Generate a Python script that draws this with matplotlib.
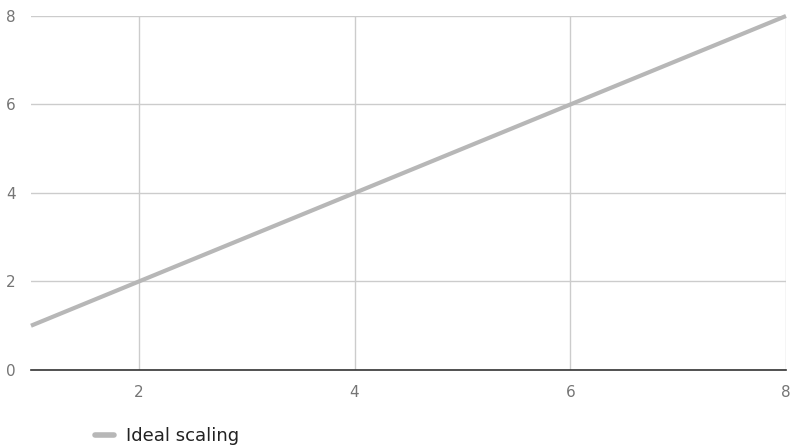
import matplotlib
matplotlib.use("Agg")
import matplotlib.pyplot as plt
from matplotlib.lines import Line2D

# data
workers = [1, 2, 3, 4, 5, 6, 7, 8]
ideal_speedup = [1, 2, 3, 4, 5, 6, 7, 8]
x_ticks = [2, 4, 6, 8]
y_ticks = [0, 2, 4, 6, 8]

LINE_COLOR = "#b7b7b7"
GRID_COLOR = "#cccccc"
TEXT_COLOR = "#757575"

fig = plt.figure(figsize=(7.92, 4.47), dpi=100)
ax = fig.add_axes([0.0391, 0.1723, 0.9533, 0.7919])

ax.plot(workers, ideal_speedup, color=LINE_COLOR, linewidth=3, solid_capstyle="butt",
        clip_on=False, zorder=3)

ax.set_xlim(1, 8)
ax.set_ylim(0, 8)
ax.set_xticks(x_ticks)
ax.set_yticks(y_ticks)

ax.grid(True, color=GRID_COLOR, linewidth=1)
ax.set_axisbelow(True)

for side in ["top", "right", "left"]:
    ax.spines[side].set_visible(False)
ax.spines["bottom"].set_color("#333333")
ax.spines["bottom"].set_linewidth(1.2)
ax.spines["bottom"].set_zorder(4)

ax.tick_params(axis="both", length=0, labelsize=11, labelcolor=TEXT_COLOR)
ax.tick_params(axis="x", pad=11)
ax.tick_params(axis="y", pad=11)

# legend below the plot
handle = Line2D([0], [0], color=LINE_COLOR, linewidth=4, solid_capstyle="round")
fig.legend([handle], ["Ideal scaling"], loc="center left",
           bbox_to_anchor=(0.1, 0.024), frameon=False, fontsize=13,
           handlelength=1.0, handletextpad=0.7, labelcolor="#222222")

fig.savefig("out.png", dpi=100)
